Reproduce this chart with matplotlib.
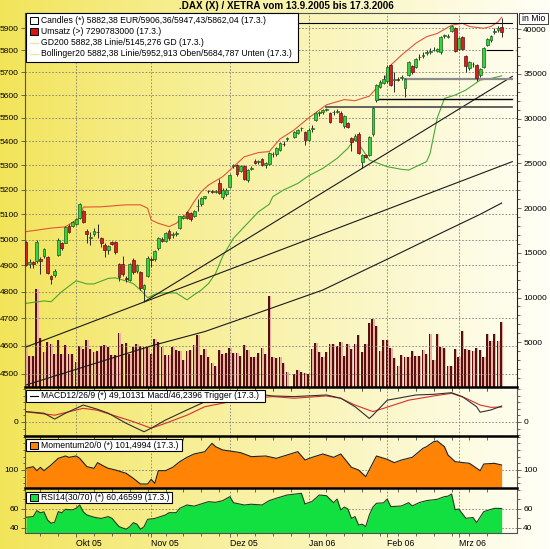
import numpy as np
import pandas as pd
import matplotlib
matplotlib.use('Agg')
import matplotlib.pyplot as plt
import matplotlib.patches as mplpatches
from matplotlib.ticker import FixedLocator, NullLocator, NullFormatter

plt.rcParams['font.family'] = ['Liberation Sans', 'DejaVu Sans']

# ---------------- data ----------------
first_day = '2005-09-13'
last_day = '2006-03-17'
holidays = ['2005-12-26']

opens = [4990, 4905, 4912, 4915, 4925, 4935, 4932, 4858, 4863, 4940,
         4985, 4988, 5055, 5055, 5062, 5087, 5115, 5035, 5005, 5022,
         5030, 5005, 4980, 4958, 4992, 4990, 4905, 4905, 4852, 4845,
         4922, 4878, 4875, 4808, 4858, 4925, 4925, 4965, 5003, 4995,
         5033, 5018, 5022, 5047, 5085, 5110, 5107, 5093, 5132, 5140,
         5165, 5195, 5192, 5190, 5225, 5170, 5180, 5210, 5295, 5300,
         5275, 5295, 5238, 5285, 5318, 5312, 5325, 5300, 5305, 5345,
         5345, 5365, 5390, 5410, 5420, 5435, 5455, 5441, 5406, 5452,
         5491, 5522, 5524, 5535, 5523, 5525, 5528, 5523, 5465, 5478,
         5415, 5408, 5430, 5315, 5343, 5343, 5430, 5578, 5637, 5655,
         5661, 5733, 5668, 5672, 5675, 5630, 5690, 5728, 5725, 5768,
         5775, 5788, 5792, 5800, 5795, 5790, 5865, 5862, 5890, 5900,
         5805, 5860, 5775, 5718, 5738, 5735, 5690, 5725, 5825, 5845,
         5885, 5895, 5906]
highs = [4995, 4925, 4918, 5000, 4932, 4968, 4936, 4862, 4885, 5005,
         4990, 5055, 5060, 5072, 5086, 5145, 5118, 5040, 5030, 5045,
         5060, 5010, 4985, 4980, 4996, 4995, 4908, 4935, 4858, 4910,
         4930, 4905, 4880, 4830, 4935, 4932, 4960, 5010, 5008, 5030,
         5040, 5030, 5032, 5095, 5098, 5115, 5110, 5118, 5160, 5168,
         5175, 5200, 5198, 5198, 5245, 5205, 5205, 5265, 5305, 5305,
         5300, 5300, 5285, 5295, 5325, 5322, 5330, 5315, 5355, 5355,
         5375, 5398, 5400, 5420, 5445, 5452, 5462, 5445, 5455, 5470,
         5525, 5530, 5540, 5545, 5528, 5535, 5540, 5530, 5512, 5482,
         5418, 5430, 5438, 5348, 5348, 5425, 5548, 5650, 5665, 5690,
         5735, 5740, 5700, 5680, 5690, 5675, 5750, 5735, 5765, 5785,
         5790, 5800, 5810, 5815, 5812, 5865, 5875, 5875, 5915, 5905,
         5862, 5865, 5780, 5750, 5745, 5740, 5720, 5815, 5855, 5870,
         5900, 5910, 5947]
lows = [4898, 4890, 4888, 4910, 4868, 4930, 4866, 4828, 4855, 4935,
        4960, 4985, 5025, 5050, 5058, 5080, 5065, 4988, 4980, 5015,
        5005, 4970, 4932, 4945, 4978, 4945, 4840, 4860, 4838, 4840,
        4868, 4870, 4805, 4765, 4855, 4895, 4918, 4960, 4990, 4990,
        5000, 5005, 5015, 5042, 5080, 5080, 5075, 5088, 5115, 5135,
        5160, 5185, 5185, 5185, 5180, 5160, 5175, 5205, 5290, 5255,
        5270, 5240, 5230, 5280, 5305, 5305, 5295, 5290, 5300, 5335,
        5340, 5360, 5380, 5400, 5415, 5430, 5445, 5385, 5400, 5440,
        5485, 5510, 5518, 5530, 5478, 5515, 5520, 5478, 5455, 5455,
        5360, 5400, 5345, 5287, 5330, 5338, 5425, 5570, 5630, 5650,
        5655, 5640, 5615, 5660, 5665, 5590, 5685, 5695, 5720, 5755,
        5765, 5780, 5785, 5795, 5790, 5785, 5858, 5855, 5885, 5790,
        5800, 5800, 5700, 5710, 5725, 5660, 5680, 5720, 5820, 5840,
        5875, 5885, 5862]
closes = [4903, 4912, 4905, 4990, 4915, 4963, 4872, 4848, 4878, 5000,
          4966, 5050, 5030, 5068, 5082, 5140, 5070, 5020, 5010, 5035,
          5028, 4985, 4958, 4975, 4983, 4950, 4855, 4865, 4846, 4905,
          4875, 4900, 4812, 4825, 4930, 4920, 4955, 5005, 4995, 5027,
          5007, 5022, 5027, 5093, 5093, 5087, 5083, 5113, 5135, 5165,
          5172, 5194, 5190, 5192, 5185, 5200, 5200, 5260, 5303, 5265,
          5295, 5245, 5280, 5290, 5310, 5318, 5300, 5308, 5350, 5348,
          5370, 5392, 5388, 5413, 5441, 5448, 5456, 5406, 5450, 5456,
          5520, 5524, 5535, 5538, 5483, 5528, 5532, 5483, 5508, 5463,
          5398, 5425, 5350, 5343, 5336, 5419, 5542, 5644, 5659, 5670,
          5726, 5644, 5672, 5665, 5678, 5670, 5745, 5700, 5760, 5770,
          5778, 5792, 5795, 5803, 5805, 5860, 5868, 5866, 5910, 5795,
          5855, 5805, 5730, 5745, 5740, 5675, 5715, 5810, 5850, 5865,
          5890, 5900, 5882]

# Umsatz in Mio
volume = [4850, 3450, 3450, 11000, 5500, 3900, 5000, 4850, 3670, 5300,
          3670, 4740, 3670, 3670, 2800, 4600, 4300, 5200, 4200, 3900,
          4000, 4600, 4700, 4500, 3550, 3550, 6000, 4850, 4900, 3670,
          4500, 4850, 4600, 4500, 4500, 3700, 5400, 5000, 4500, 3600,
          3600, 4500, 4100, 4000, 3000, 4000, 4100, 4700, 5800, 3600,
          4200, 3300, 2700, 2300, 4100, 3700, 3800, 4400, 3800, 3800,
          3500, 4700, 4100, 3400, 3400, 3800, 4400, 3700, 10200, 3400,
          3200, 3400, 2700, 1700, 1400, 1900, 1700, 1600, 1400, 4300,
          4900, 3900, 3400, 3900, 4800, 4800, 4600, 5000, 3500, 4800,
          4300, 4800, 5800, 3900, 4800, 7100, 7600, 6800, 4000, 5200,
          5300, 4400, 3200, 2400, 3600, 3300, 3400, 4000, 3500, 3500,
          4100, 3700, 5900, 3000, 5900, 4500, 4400, 2400, 2400, 4300,
          3400, 6300, 4200, 4100, 4000, 4400, 4100, 3400, 5900, 5100,
          5900, 5100, 7290]

# indicator readings: trading-day index -> value
bb_up_days = [0, 7, 11, 15, 16, 21, 28, 32, 34, 35, 37, 40, 42, 45, 47,
              49, 51, 55, 57, 61, 65, 68, 71, 74, 78, 83, 88, 91, 95, 97,
              99, 101, 104, 108, 111, 114, 118, 121, 123, 127, 129, 131, 132]
bb_up = [5031, 5045, 5050, 5086, 5129, 5130, 5138, 5138, 5124, 5077, 5064,
         5051, 5064, 5104, 5151, 5191, 5218, 5253, 5280, 5335, 5353, 5357,
         5410, 5449, 5500, 5557, 5580, 5575, 5595, 5630, 5660, 5733, 5778,
         5832, 5862, 5877, 5915, 5924, 5909, 5901, 5909, 5931, 5952]
bb_lo_days = [0, 5, 7, 10, 14, 17, 19, 23, 25, 28, 30, 32, 34, 36, 38, 42,
              45, 47, 49, 51, 53, 55, 58, 61, 65, 68, 69, 72, 75, 78, 82,
              86, 89, 91, 95, 100, 104, 106, 108, 111, 112, 114, 116, 119,
              122, 126, 129, 132]
bb_lo = [4756, 4765, 4762, 4800, 4841, 4829, 4829, 4850, 4852, 4840, 4830,
         4806, 4777, 4790, 4795, 4795, 4769, 4788, 4806, 4830, 4869, 4935,
         5005, 5050, 5110, 5140, 5171, 5198, 5225, 5256, 5287, 5329, 5371,
         5413, 5322, 5294, 5283, 5280, 5294, 5315, 5350, 5500, 5585, 5600,
         5622, 5666, 5673, 5685]
gd200_days = [0, 20, 35, 50, 62, 82, 101, 115, 126, 132]
gd200 = [4461, 4540, 4600, 4652, 4707, 4806, 4930, 5025, 5100, 5145]

macd_days = [0, 5, 8, 11, 16, 20, 23, 28, 33, 35, 39, 45, 50, 57, 63, 69,
             74, 83, 87, 91, 95, 96, 100, 108, 113, 118, 121, 125, 126,
             129, 132]
macd = [32, 27, 9, 27, 52, 39, 27, -4, -30, -19, 6, 37, 62, 83, 88, 80,
        78, 83, 73, 47, 11, 21, 67, 83, 85, 90, 78, 47, 30, 37, 49]
trig_days = [0, 8, 16, 20, 30, 35, 39, 45, 50, 57, 63, 69, 74, 83, 87, 91,
             96, 99, 106, 113, 118, 122, 126, 129, 132]
trigger = [31, 21, 42, 36, 1, -19, -4, 21, 47, 62, 73, 78, 73, 80, 73, 52,
           32, 42, 67, 80, 88, 73, 52, 45, 46]

mom_days = [0, 2, 3, 4, 5, 7, 9, 11, 12, 14, 15, 17, 19, 20, 22, 23, 25,
            28, 30, 32, 34, 35, 36, 37, 39, 41, 43, 45, 47, 50, 52, 53, 55,
            57, 60, 63, 67, 70, 73, 75, 77, 79, 82, 85, 87, 90, 92, 94, 97,
            100, 102, 104, 107, 110, 111, 113, 114, 116, 117, 119, 123,
            126, 127, 130, 132]
momentum = [100.5, 101, 99.8, 100.8, 99.8, 101.5, 103.5, 104.2, 103.8,
            104.2, 103.5, 101, 100.5, 102.2, 101, 100.5, 100, 99, 97.5,
            95.8, 95.8, 97.2, 96, 99.8, 99.8, 100.8, 102.5, 103.8, 104.8,
            105.5, 108, 107, 106, 105.7, 105.2, 104, 104.2, 103.5, 104.5,
            105.5, 103, 103.8, 104.8, 103.8, 104.8, 100.8, 100, 98, 104.2,
            103.2, 102.2, 103, 103.8, 106.5, 107, 108.5, 108.7, 107, 104.5,
            102.5, 102, 99.8, 101.8, 102, 101.5]

rsi_days = [0, 2, 3, 4, 5, 6, 7, 8, 9, 10, 11, 13, 14, 15, 16, 17, 19, 21,
            23, 24, 26, 28, 29, 30, 31, 32, 33, 34, 36, 39, 40, 42, 43, 45,
            47, 49, 51, 53, 55, 57, 58, 61, 63, 66, 68, 70, 73, 76, 77, 79,
            81, 83, 85, 86, 87, 88, 89, 90, 91, 92, 93, 94, 95, 96, 97, 99,
            100, 101, 104, 106, 107, 109, 111, 114, 116, 117, 118, 119, 120,
            122, 124, 125, 127, 130, 132]
rsi = [51.3, 52, 58.2, 56, 57, 48.4, 45, 46, 57.2, 56, 59.6, 59, 60.7, 64.2,
       57, 53.7, 51.3, 50, 52, 50.2, 41.4, 38.6, 41.4, 45.6, 44, 38.6, 41.4,
       49.1, 50, 53.7, 56.1, 56.1, 60.7, 64.2, 63, 65.3, 67.7, 67, 68.8, 73,
       66.6, 64.2, 65, 64.2, 68.8, 71.3, 74.7, 76.5, 65.3, 68, 74.7, 74,
       66.6, 70.5, 59, 62, 60, 50, 52, 43, 44, 41.4, 53.7, 62, 66, 66.5,
       70.5, 62.4, 63.2, 66.6, 63.2, 66.8, 68.8, 70.2, 73, 73.5, 75.8, 59,
       60, 50.2, 51, 45.6, 57.2, 60.7, 60.5]

# drawn trend lines: two anchor (trading day, price) pairs each
trend_lines = [((0, 4596), (33, 4761)), ((33, 4761), (93, 5287))]
# horizontal lines: level, first trading day, colour, width
hlines = [(5925, 0, 'k', 0.8), (5800, 128, 'k', 0.8), (5673, 105, '#8c8c8c', 1.6),
          (5582, 97, 'k', 1.0), (5548, 83, '#555555', 1.3)]
line_end_slot = 136

price_ticks = list(range(4500, 6000, 100))
vol_ticks = list(range(5000, 40001, 5000))
month_labels = ['Okt 05', 'Nov 05', 'Dez 05', 'Jan 06', 'Feb 06', 'Mrz 06']

# ---------------- positions ----------------
all_days = pd.bdate_range(first_day, last_day)
trade_days = all_days[~all_days.isin(pd.to_datetime(holidays))]
slot = np.array([all_days.get_loc(d) for d in trade_days], dtype=float)
month_start = [i for i in range(1, len(all_days)) if all_days[i].month != all_days[i - 1].month]

W, H = 550, 549
fig = plt.figure(figsize=(5.5, 5.49), dpi=100)


def px_rect(x0, y0, x1, y1):
    return [x0 / W, 1 - y1 / H, (x1 - x0) / W, (y1 - y0) / H]


# background gradient
bg = fig.add_axes([0, 0, 1, 1], zorder=-10)
t = np.linspace(0, 1, 400)[None, :, None] ** 0.9
c_left = np.array([242, 228, 88]) / 255
c_right = np.array([255, 255, 247]) / 255
bg.imshow(c_left * (1 - t) + c_right * t, aspect='auto', extent=[0, 1, 0, 1])
bg.axis('off')

ax_vol = fig.add_axes(px_rect(25, 13, 517, 387))
ax_px = fig.add_axes(px_rect(25, 13, 517, 387), sharex=ax_vol)
ax_macd = fig.add_axes(px_rect(25, 387, 517, 436), sharex=ax_vol)
ax_mom = fig.add_axes(px_rect(25, 436, 517, 488), sharex=ax_vol)
ax_rsi = fig.add_axes(px_rect(25, 488, 517, 533), sharex=ax_vol)
panels = [ax_vol, ax_px, ax_macd, ax_mom, ax_rsi]

grid_kw = dict(color='#808080', lw=0.6, ls=(0, (2, 2)), zorder=0.5)
for a in panels:
    a.patch.set_visible(False)
    a.set_xlim(-0.3, 137.3)
    for s in a.spines.values():
        s.set_color('#505050')
        s.set_linewidth(0.8)
    a.tick_params(axis='both', which='both', direction='out', color='#505050',
                  labelsize=6.0, length=3, width=0.6, pad=1.5)
for a in [ax_px, ax_macd, ax_mom, ax_rsi]:
    for m in month_start:
        a.axvline(m, **grid_kw)

# ---- volume ----
v = np.array(volume, dtype=float)
ax_vol.bar(slot + 0.12, v, width=0.8, color='#eeb0a0', lw=0, zorder=1)
ax_vol.bar(slot - 0.15, v, width=0.5, color='#561010', lw=0, zorder=1.1)
ax_vol.set_ylim(0, 41790)
ax_vol.yaxis.tick_right()
ax_vol.set_yticks(vol_ticks)
ax_vol.set_yticklabels([str(x) for x in vol_ticks])
ax_vol.yaxis.set_minor_locator(FixedLocator([x for x in range(1000, 41000, 1000) if x % 5000]))
ax_vol.tick_params(axis='y', which='minor', length=1.8)
ax_vol.tick_params(axis='x', bottom=False, labelbottom=False)
ax_vol.spines['right'].set_color('#202020')
for s in ['left', 'top', 'bottom']:
    ax_vol.spines[s].set_visible(False)

# ---- price ----
ax_px.set_yscale('log')
ax_px.set_ylim(4454, 5972)
ax_px.yaxis.set_major_locator(FixedLocator(price_ticks))
ax_px.set_yticklabels([str(p) for p in price_ticks])
ax_px.yaxis.set_minor_locator(NullLocator())
ax_px.yaxis.set_minor_formatter(NullFormatter())
ax_px.tick_params(axis='x', bottom=False, labelbottom=False)
ax_px.spines['right'].set_visible(False)
ax_px.spines['bottom'].set_visible(False)
for p in price_ticks:
    ax_px.axhline(p, **grid_kw)

ax_px.plot(slot[bb_up_days], bb_up, color='#e0563a', lw=0.8, zorder=2)
ax_px.plot(slot[bb_lo_days], bb_lo, color='#4aa832', lw=0.8, zorder=2)
ax_px.plot(slot[gd200_days], gd200, color='#1a1a1a', lw=0.8, zorder=2)
for (d0, p0), (d1, p1) in trend_lines:
    x0, x1 = slot[d0], slot[d1]
    k = np.log(p1 / p0) / (x1 - x0)
    xs = np.array([x0 if d0 > 0 else -0.3, line_end_slot])
    ax_px.plot(xs, p0 * np.exp(k * (xs - x0)), color='#1a1a1a', lw=0.8, zorder=2)
for lvl, d0, col, lw in hlines:
    ax_px.plot([slot[d0], line_end_slot], [lvl, lvl], color=col, lw=lw, zorder=2.5)

o = np.array(opens, float)
hi = np.array(highs, float)
lo = np.array(lows, float)
c = np.array(closes, float)
up = c >= o
ax_px.vlines(slot, lo, hi, color='#2a2a2a', lw=0.7, zorder=3)
ax_px.bar(slot[up], np.maximum(c[up] - o[up], 1.5), bottom=o[up], width=0.78,
          color='#33d43c', edgecolor='#1d5e1d', lw=0.5, zorder=4)
ax_px.bar(slot[~up], np.maximum(o[~up] - c[~up], 1.5), bottom=c[~up], width=0.78,
          color='#d42222', edgecolor='#5e1111', lw=0.5, zorder=4)

# ---- MACD ----
ax_macd.set_ylim(-43, 107.5)
ax_macd.plot(slot[trig_days], trigger, color='#d83030', lw=0.8, zorder=2)
ax_macd.plot(slot[macd_days], macd, color='#303030', lw=0.8, zorder=3)
ax_macd.axhline(0, **grid_kw)
ax_macd.set_yticks([0])
ax_macd.yaxis.set_minor_locator(FixedLocator([-40, -20, 20, 40, 60, 80, 100]))

# ---- Momentum ----
ax_mom.set_ylim(94.6, 110.2)
ax_mom.fill_between(slot[mom_days], momentum, 90, color='#ff8405', lw=0, zorder=1)
ax_mom.plot(slot[mom_days], momentum, color='#202020', lw=0.8, zorder=2)
ax_mom.axhline(100, **grid_kw)
ax_mom.set_yticks([100])
ax_mom.yaxis.set_minor_locator(FixedLocator([96, 98, 102, 104, 106, 108, 110]))

# ---- RSI ----
ax_rsi.set_ylim(34.7, 82.1)
ax_rsi.fill_between(slot[rsi_days], rsi, 0, color='#12e040', lw=0, zorder=1)
ax_rsi.plot(slot[rsi_days], rsi, color='#1f3f1f', lw=0.8, zorder=2)
for lv in [40, 60]:
    ax_rsi.axhline(lv, **grid_kw)
ax_rsi.set_yticks([40, 60])
ax_rsi.yaxis.set_minor_locator(FixedLocator([50, 70, 80]))

for a in [ax_macd, ax_mom, ax_rsi]:
    a.tick_params(axis='y', which='both', left=True, right=True, labelleft=True, labelright=True)
    a.tick_params(axis='y', which='minor', length=1.8)
    a.spines['top'].set_color('black')
    a.spines['top'].set_linewidth(1.8)
for a in [ax_macd, ax_mom]:
    a.tick_params(axis='x', bottom=False, labelbottom=False)
    a.spines['bottom'].set_visible(False)

ax_rsi.set_xticks(month_start)
ax_rsi.set_xticklabels(month_labels, fontsize=6.3)
for lab in ax_rsi.get_xticklabels():
    lab.set_ha('left')
weekly = [i for i in range(len(all_days)) if all_days[i].weekday() == 0 and i not in month_start]
ax_rsi.xaxis.set_minor_locator(FixedLocator(weekly))
ax_rsi.tick_params(axis='x', which='minor', length=1.8)


# ---------------- legends / texts ----------------
def box(x0, y0, x1, y1, **kw):
    fig.add_artist(mplpatches.Rectangle((x0 / W, 1 - y1 / H), (x1 - x0) / W, (y1 - y0) / H,
                                        transform=fig.transFigure, **kw))


def label(x, y, s, **kw):
    fig.text(x / W, 1 - y / H, s, va='center', ha='left', fontsize=6.2, **kw)


def seg(x0, x1, y, **kw):
    fig.add_artist(plt.Line2D([x0 / W, x1 / W], [1 - y / H, 1 - y / H],
                              transform=fig.transFigure, **kw))


fig.text(286 / W, 1 - 6 / H, '.DAX (X) / XETRA vom 13.9.2005 bis 17.3.2006',
         ha='center', va='center', fontsize=7.1, fontweight='bold')

box(26, 13, 298, 62, facecolor='white', edgecolor='black', lw=0.8, zorder=5)
box(29.5, 17, 37.5, 24, facecolor='white', edgecolor='black', lw=0.7, zorder=6)
label(41, 20.5, 'Candles (*) 5882,38 EUR/5906,36/5947,43/5862,04 (17.3.)', zorder=6)
box(29.5, 28, 37.5, 35, facecolor='#e01010', edgecolor='black', lw=0.7, zorder=6)
label(41, 31.5, 'Umsatz (>) 7290783000 (17.3.)', zorder=6)
seg(29.5, 38, 42.5, color='#eee39a', lw=0.9, zorder=6)
label(41, 42.5, 'GD200 5882,38 Linie/5145,276 GD (17.3.)', zorder=6)
seg(29.5, 38, 53.5, color='#eee39a', lw=0.9, zorder=6)
label(41, 53.5, 'Bollinger20 5882,38 Linie/5952,913 Oben/5684,787 Unten (17.3.)', zorder=6)

box(519, 13, 548, 24, facecolor='white', edgecolor='#404040', lw=0.7, zorder=5)
fig.text(533.5 / W, 1 - 18.5 / H, 'in Mio', ha='center', va='center', fontsize=6.2, zorder=6)

box(26, 390, 265, 402, facecolor='white', edgecolor='black', lw=0.8, zorder=5)
seg(29.5, 38, 396, color='black', lw=0.8, zorder=6)
label(41, 396, 'MACD12/26/9 (*) 49,10131 Macd/46,2396 Trigger (17.3.)', zorder=6)

box(26, 439, 182, 451, facecolor='white', edgecolor='black', lw=0.8, zorder=5)
box(29.5, 441.5, 37.5, 448.5, facecolor='#ff8405', edgecolor='black', lw=0.7, zorder=6)
label(41, 445, 'Momentum20/0 (*) 101,4994 (17.3.)', zorder=6)

box(26, 492, 172, 503, facecolor='white', edgecolor='black', lw=0.8, zorder=5)
box(29.5, 494, 37.5, 501, facecolor='#12e040', edgecolor='black', lw=0.7, zorder=6)
label(41, 497.5, 'RSI14(30/70) (*) 60,46599 (17.3.)', zorder=6)

fig.savefig('out.png', dpi=100)
